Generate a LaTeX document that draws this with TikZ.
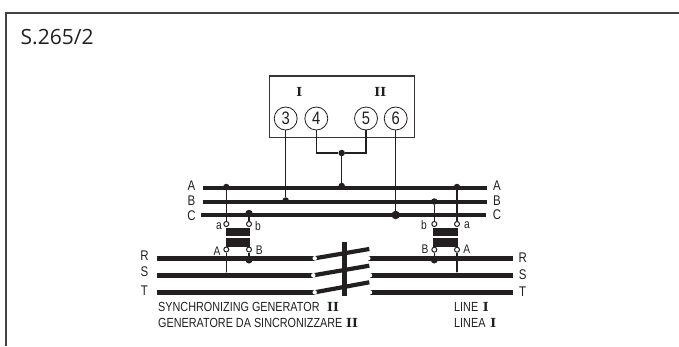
\documentclass[tikz,border=0pt]{standalone}
\usepackage{fontspec}
\setmainfont{Liberation Sans}
\newfontfamily\titlefont{Open Sans}
\newfontfamily\capfont[FakeStretch=0.82]{Liberation Sans}
\newfontfamily\romfont{DejaVu Serif}
\definecolor{ink}{HTML}{231F20}
\tikzset{
  framel/.style={draw=ink!85,line width=1.6pt},
  bus/.style={draw=ink,line width=4pt},
  busc/.style={draw=ink,line width=3.6pt},
  mainl/.style={draw=ink,line width=5pt},
  blade/.style={draw=ink,line width=4.2pt},
  wire/.style={draw=ink,line width=1.2pt},
  boxl/.style={draw=ink!90,line width=1.3pt},
  term/.style={circle,draw=ink,fill=white,line width=.8pt,minimum size=23pt,inner sep=0pt,font=\fontsize{18}{18}\selectfont\capfont,text=ink},
  pt/.style={inner sep=0pt,minimum size=0pt},
  dot/.style={circle,fill=ink,inner sep=0pt,minimum size=#1},
  dot/.default=6pt,
  ring/.style={circle,draw=ink,fill=white,line width=1pt,inner sep=0pt,minimum size=5pt},
  wring/.style={circle,fill=white,inner sep=0pt,minimum size=4.4pt},
  core/.style={fill=ink,draw=none,inner sep=0pt,minimum width=24.5pt,minimum height=8.4pt},
  lab/.style={font=\fontsize{14}{14}\selectfont\capfont,text=ink,inner sep=0pt},
  smalllab/.style={font=\fontsize{12.5}{12.5}\selectfont\capfont,text=ink,inner sep=0pt},
  captxt/.style={font=\fontsize{13.2}{13.2}\selectfont\capfont,text=ink,inner sep=0pt,anchor=west},
  rom/.style={font=\fontsize{12.5}{12.5}\selectfont\bfseries\romfont,text=ink,inner sep=0pt},
}
\begin{document}
\begin{tikzpicture}[x=1pt,y=-1pt]
\useasboundingbox (0,0) rectangle (679,346);
% frame
\coordinate (fa) at (6,346); \coordinate (fb) at (6,13); \coordinate (fc) at (679,13);
\draw[framel] (fa) -- (fb) -- (fc);
\node[anchor=west,inner sep=0pt,font=\fontsize{21}{21}\selectfont\titlefont,text=ink] (title) at (20.5,37) {S.265/2};
% instrument box
\node[boxl,draw,minimum width=144.6pt,minimum height=61.3pt,inner sep=0pt] (box) at (342,106.6) {};
\node[rom] (rI) at (299.3,91.5) {I};
\node[rom] (rII) at (380.3,91.5) {II};
\node[term] (t3) at (285.7,118.5) {3};
\node[term] (t4) at (316.3,118.5) {4};
\node[term] (t5) at (366,118.5) {5};
\node[term] (t6) at (395.7,118.5) {6};
% bus bars
\coordinate (Al) at (202.7,187.7); \coordinate (Ar) at (487,187.7);
\coordinate (Bl) at (202.7,201.7); \coordinate (Br) at (487,201.7);
\coordinate (Cl) at (201,215); \coordinate (Cr) at (486,215);
\draw[bus] (Al) -- (Ar);
\draw[bus] (Bl) -- (Br);
\draw[busc] (Cl) -- (Cr);
\node[lab] (lA) at (191.5,186) {A}; \node[lab] (lB) at (191.5,200.5) {B}; \node[lab] (lC) at (191.5,216) {C};
\node[lab] (rA) at (497,186) {A}; \node[lab] (rB) at (497,200.5) {B}; \node[lab] (rC) at (497,215) {C};
% main lines
\coordinate (Rl) at (157,258.3); \coordinate (Sl) at (157,275.3); \coordinate (Tl) at (156.5,292.3);
\coordinate (Rr) at (512.7,258.3); \coordinate (Sr) at (512.7,275.3); \coordinate (Tr) at (512.7,292.3);
\node[pt] (Ra) at (314.7,258.3) {}; \node[pt] (Sa) at (313.3,275.3) {}; \node[pt] (Ta) at (314.7,292.3) {};
\node[pt] (Rb) at (369.3,249) {}; \node[pt] (Sb) at (369.3,265.7) {}; \node[pt] (Tb) at (369.3,282.3) {};
\node[pt] (Rc) at (368.3,258.3) {}; \node[pt] (Sc) at (370,275.3) {}; \node[pt] (Tc) at (370,292.3) {};
\draw[mainl] (Rl) -- (Ra.center); \draw[mainl] (Sl) -- (Sa.center); \draw[mainl] (Tl) -- (Ta.center);
\draw[mainl] (Rc.center) -- (Rr); \draw[mainl] (Sc.center) -- (Sr); \draw[mainl] (Tc.center) -- (Tr);
\draw[blade] (Ra.center) -- (Rb.center); \draw[blade] (Sa.center) -- (Sb.center); \draw[blade] (Ta.center) -- (Tb.center);
\coordinate (barT) at (344.7,242.3); \coordinate (barB) at (344.7,296);
\draw[draw=ink,line width=5.5pt] (barT) -- (barB);
\foreach \n in {Ra,Sa,Ta,Rc,Sc,Tc} \node[wring] at (\n) {};
\node[lab] (lR) at (144.5,255.5) {R}; \node[lab] (lS) at (144.5,272) {S}; \node[lab] (lT) at (144.5,291) {T};
\node[lab] (rR) at (522.7,257.5) {R}; \node[lab] (rS) at (522.7,275) {S}; \node[lab] (rT) at (522.7,292) {T};
% left transformer
\node[core] (c1u) at (237.8,231.9) {};
\node[core] (c1l) at (237.8,242.5) {};
\node[dot=6.5pt] (d1) at (226.3,187) {};
\node[dot=7.5pt] (d2) at (249,213.5) {};
\node[dot=7pt] (d3) at (249,260) {};
\node[dot=5.5pt] (d4) at (226.3,275.3) {};
\node[ring] (a1) at (226.3,224) {}; \node[ring] (b1) at (249,224) {};
\node[ring] (A1) at (226.3,249.5) {}; \node[ring] (B1) at (249,249.5) {};
\draw[wire] (d1) -- (a1); \draw[wire] (d2) -- (b1);
\draw[wire] (A1) -- (d4); \draw[wire] (B1) -- (d3);
\node[smalllab] (la1) at (219,225.7) {a}; \node[smalllab] (lb1) at (258,225.7) {b};
\node[smalllab] (lA1) at (217,251) {A}; \node[smalllab] (lB1) at (259.3,250) {B};
% right transformer
\node[core] (c2u) at (445.7,231.9) {};
\node[core] (c2l) at (445.7,242.5) {};
\node[dot=6.5pt] (d5) at (457,187) {};
\node[dot=6.5pt] (d6) at (434.3,201.5) {};
\node[dot=7pt] (d7) at (434.3,260) {};
\node[dot=5.5pt] (d8) at (457,275.3) {};
\node[ring] (a2) at (457,224) {}; \node[ring] (b2) at (434.3,224) {};
\node[ring] (A2) at (457,249.7) {}; \node[ring] (B2) at (434.3,249.7) {};
\draw[wire] (d5) -- (a2); \draw[wire] (d6) -- (b2);
\draw[wire] (A2) -- (d8); \draw[wire] (B2) -- (d7);
\node[smalllab] (lb2) at (424,224.7) {b}; \node[smalllab] (la2) at (467,224.7) {a};
\node[smalllab] (lB2) at (425,249.5) {B}; \node[smalllab] (lA2) at (466.7,249.5) {A};
% instrument connections
\node[dot=6.5pt] (j1) at (285.7,200.5) {};
\node[dot=6.5pt] (j2) at (341.7,153) {};
\node[dot=6.5pt] (j3) at (341.7,186) {};
\node[dot=8.5pt] (j4) at (395.7,215) {};
\draw[wire] (t3) -- (j1);
\draw[wire] (t6) -- (j4);
\draw[wire] (t4) |- (j2);
\draw[wire] (t5) |- (j2);
\draw[wire] (j2) -- (j3);
% captions
\node[captxt] (c1) at (158,306.7) {SYNCHRONIZING GENERATOR};
\node[rom] (c1r) at (333,307) {II};
\node[captxt] (c2) at (158,322.7) {GENERATORE DA SINCRONIZZARE};
\node[rom] (c2r) at (352,323) {II};
\node[captxt] (c3) at (454,306.7) {LINE};
\node[rom] (c3r) at (485.7,307) {I};
\node[captxt] (c4) at (454,322.7) {LINEA};
\node[rom] (c4r) at (493.3,323) {I};
\end{tikzpicture}
\end{document}
